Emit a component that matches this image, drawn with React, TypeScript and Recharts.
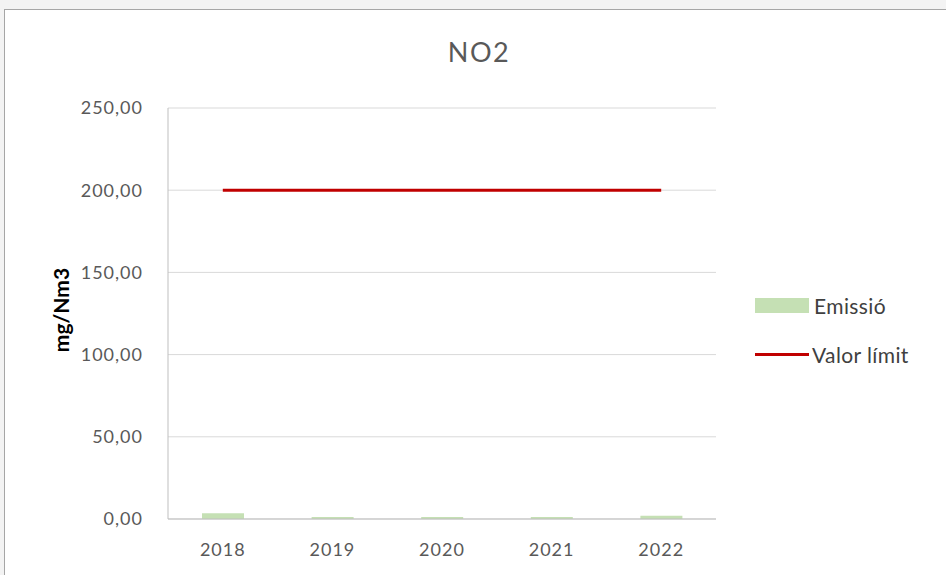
import { Bar, ComposedChart, CartesianGrid, Line, XAxis, YAxis } from "recharts";

const years = ["2018", "2019", "2020", "2021", "2022"];
const emissio = [3.5, 1.2, 1.2, 1.2, 2.0];
const valorLimit = [200, 200, 200, 200, 200];
const yTicks = [0, 50, 100, 150, 200, 250];

const data = years.map((year, i) => ({
  year,
  emissio: emissio[i],
  limit: valorLimit[i],
}));

const FONT = "Lato, 'Open Sans', sans-serif";

function fmt(v: number) {
  return v.toFixed(2).replace(".", ",");
}

function LegendBox() {
  return (
    <div
      style={{
        position: "absolute",
        left: 755,
        top: 293,
        fontFamily: FONT,
        fontSize: 21,
        letterSpacing: 0.4,
        color: "#404040",
      }}
    >
      <div style={{ display: "flex", alignItems: "center", height: 24 }}>
        <span style={{ width: 54, height: 15, background: "#c5e0b4", display: "inline-block" }} />
        <span style={{ marginLeft: 5 }}>Emissió</span>
      </div>
      <div style={{ display: "flex", alignItems: "center", height: 24, marginTop: 25 }}>
        <span style={{ width: 54, height: 3, background: "#c00000", display: "inline-block" }} />
        <span style={{ marginLeft: 3 }}>Valor límit</span>
      </div>
    </div>
  );
}

export default function App() {
  return (
    <div style={{ position: "absolute", left: 0, top: 0, width: 946, height: 575, background: "#f3f3f3", overflow: "hidden" }}>
      <div
        style={{
          position: "absolute",
          left: 4,
          top: 9,
          width: 960,
          height: 600,
          background: "#fff",
          border: "1px solid #a6a6a6",
        }}
      />
      <div style={{ position: "absolute", left: 0, top: 0 }}>
        <ComposedChart
          width={946}
          height={575}
          data={data}
          margin={{ top: 108, right: 230, bottom: 26, left: 108 }}
        >
          <text x={479} y={62} textAnchor="middle" fontFamily={FONT} fontSize={27} letterSpacing={1.5} fill="#595959">
            NO2
          </text>
          <CartesianGrid vertical={false} stroke="#d9d9d9" />
          <XAxis
            dataKey="year"
            height={30}
            stroke="#bfbfbf"
            tickLine={false}
            tickMargin={18}
            tick={{ fill: "#595959", fontSize: 18, fontFamily: FONT, letterSpacing: 1 }}
          />
          <YAxis
            width={60}
            domain={[0, 250]}
            ticks={yTicks}
            tickFormatter={fmt}
            stroke="#bfbfbf"
            tickLine={false}
            tickMargin={19}
            tick={{ fill: "#595959", fontSize: 18, fontFamily: FONT, letterSpacing: 1 }}
            label={{
              content: () => (
                <text
                  x={60}
                  y={310}
                  transform="rotate(-90, 60, 310)"
                  textAnchor="middle"
                  dominantBaseline="central"
                  fontFamily={FONT}
                  fontSize={21}
                  fontWeight="bold"
                  fill="#000"
                >
                  mg/Nm3
                </text>
              ),
            }}
          />
          <Bar dataKey="emissio" name="Emissió" fill="#c5e0b4" barSize={42} isAnimationActive={false} />
          <Line
            dataKey="limit"
            name="Valor límit"
            stroke="#c00000"
            strokeWidth={3}
            dot={false}
            activeDot={false}
            isAnimationActive={false}
          />
        </ComposedChart>
      </div>
      <LegendBox />
    </div>
  );
}
